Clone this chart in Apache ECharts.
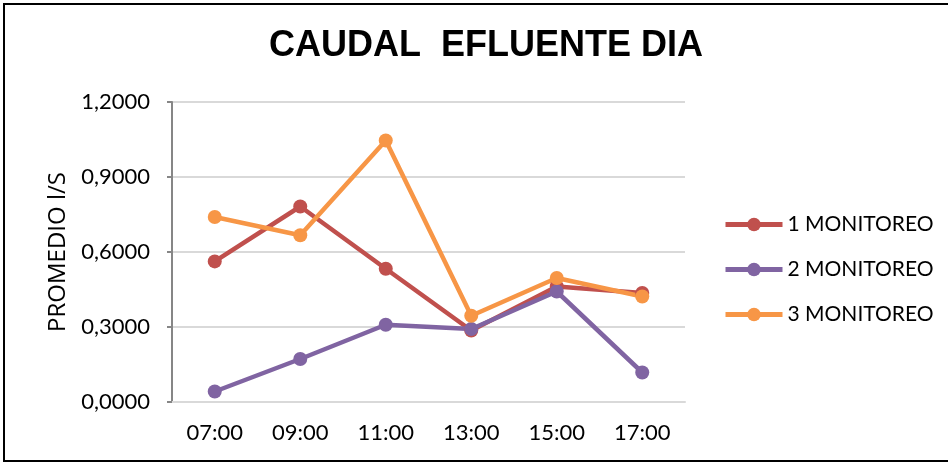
<!DOCTYPE html>
<html>
<head>
<meta charset="utf-8">
<script src="https://cdn.jsdelivr.net/npm/echarts@6/dist/echarts.min.js"></script>
<style>
    html, body { margin: 0; padding: 0; background: #fff; overflow: hidden; }
    #frame {
        position: absolute; left: 3px; top: 3px; width: 980px; height: 459px;
        box-sizing: border-box; border: 2px solid #000; border-right: none;
    }
    #chart { position: absolute; left: 0; top: 0; width: 948px; height: 464px; }
</style>
</head>
<body>
<div id="frame"></div>
<div id="chart"></div>
<script>
// horas de muestreo
const horas = ["07:00", "09:00", "11:00", "13:00", "15:00", "17:00"];

// caudal promedio l/s por monitoreo
const monitoreo1 = [0.5625, 0.7820, 0.5330, 0.2860, 0.4620, 0.4360];
const monitoreo2 = [0.0420, 0.1720, 0.3090, 0.2920, 0.4420, 0.1180];
const monitoreo3 = [0.7400, 0.6670, 1.0460, 0.3450, 0.4960, 0.4220];

const nombres = ["1 MONITOREO", "2 MONITOREO", "3 MONITOREO"];
const colores = ["#C0504D", "#8064A2", "#F79646"];

const FONT = "Lato";

function serie(name, data, color) {
    return {
        name: name,
        type: 'line',
        data: data,
        symbol: 'circle',
        symbolSize: 14,
        smooth: false,
        lineStyle: { width: 4.5, color: color },
        itemStyle: { color: color },
        emphasis: { disabled: true }
    };
}

const myChart = echarts.init(document.getElementById("chart"));

let option = {
    animation: false,
    title: {
        text: "CAUDAL  EFLUENTE DIA",
        left: 481,
        top: 23,
        textAlign: 'center',
        textStyle: {
            fontFamily: "Liberation Sans",
            fontWeight: 'bold',
            fontSize: 36,
            color: '#000'
        }
    },
    legend: {
        orient: 'vertical',
        left: 723,
        top: 214,
        padding: 0,
        itemWidth: 57,
        itemHeight: 17,
        itemGap: 24,
        data: nombres,
        lineStyle: { width: 5 },
        textStyle: { fontFamily: FONT, fontSize: 21, color: '#000' }
    },
    grid: {
        left: 172,
        right: 263,
        top: 102,
        bottom: 62,
        containLabel: false
    },
    xAxis: {
        type: 'category',
        data: horas,
        boundaryGap: true,
        axisLine: { lineStyle: { color: '#D9D9D9', width: 2 } },
        axisTick: { show: false },
        axisLabel: { fontFamily: FONT, fontSize: 22, color: '#000', margin: 20 }
    },
    yAxis: {
        type: 'value',
        min: 0,
        max: 1.2,
        interval: 0.3,
        name: "PROMEDIO l/S",
        nameLocation: 'middle',
        nameRotate: 90,
        nameGap: 101,
        nameTextStyle: { fontFamily: "Open Sans", fontSize: 24, color: '#000' },
        axisLine: { show: true, lineStyle: { color: '#868686', width: 2 } },
        axisTick: { show: true, length: 5, lineStyle: { color: '#868686', width: 2 } },
        axisLabel: {
            fontFamily: FONT, fontSize: 22, color: '#000', margin: 22,
            formatter: function (v) { return v.toFixed(4).replace(".", ","); }
        },
        splitLine: { lineStyle: { color: '#D9D9D9', width: 2 } }
    },
    series: [
        serie(nombres[0], monitoreo1, colores[0]),
        serie(nombres[1], monitoreo2, colores[1]),
        serie(nombres[2], monitoreo3, colores[2])
    ]
};

myChart.setOption(option, true);
</script>
</body>
</html>
